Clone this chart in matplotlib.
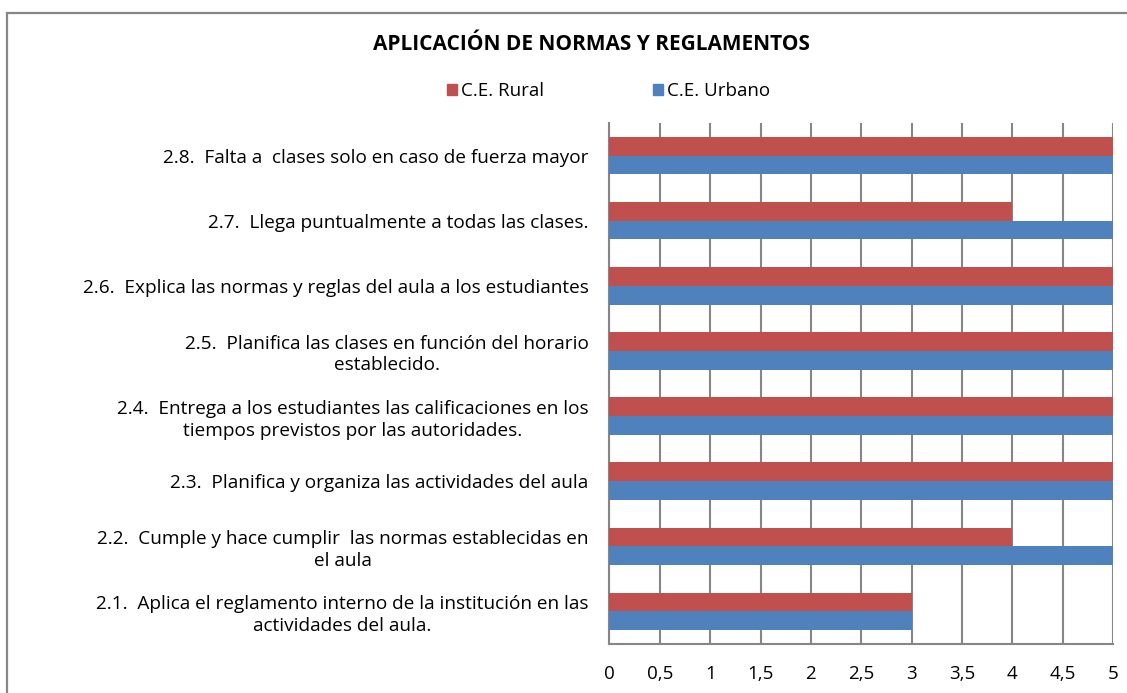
import matplotlib
matplotlib.use("Agg")
import matplotlib.pyplot as plt
import matplotlib.ticker as mticker
from matplotlib.patches import Rectangle, Patch
import numpy as np

COL_RURAL = "#C0504D"
COL_URBANO = "#4F81BD"
GRID = "#868686"

categories = [
    "2.1.  Aplica el reglamento interno de la institución en las\nactividades del aula.",
    "2.2.  Cumple y hace cumplir  las normas establecidas en\nel aula",
    "2.3.  Planifica y organiza las actividades del aula",
    "2.4.  Entrega a los estudiantes las calificaciones en los\ntiempos previstos por las autoridades.",
    "2.5.  Planifica las clases en función del horario\nestablecido.",
    "2.6.  Explica las normas y reglas del aula a los estudiantes",
    "2.7.  Llega puntualmente a todas las clases.",
    "2.8.  Falta a  clases solo en caso de fuerza mayor",
]
rural = [3, 4, 5, 5, 5, 5, 4, 5]
urbano = [3, 5, 5, 5, 5, 5, 5, 5]
xticks = [0, 0.5, 1, 1.5, 2, 2.5, 3, 3.5, 4, 4.5, 5]

plt.rcParams["font.family"] = ["Open Sans", "DejaVu Sans"]

fig = plt.figure(figsize=(11.27, 6.93), dpi=100)
fig.patch.set_facecolor("white")

# outer chart border (Excel chart area)
fig.patches.append(Rectangle((7 / 1127, -0.05), 1.2, 1 - 13 / 693 + 0.05,
                             transform=fig.transFigure, fill=False,
                             edgecolor=GRID, lw=1.6))

ax = fig.add_axes([0.5408, 0.0707, 0.9876 - 0.5408, 0.8225 - 0.0707])

y = np.arange(len(categories))
h = 0.288
ax.barh(y + h / 2, rural, height=h, color=COL_RURAL, zorder=3)
ax.barh(y - h / 2, urbano, height=h, color=COL_URBANO, zorder=3)

ax.set_xlim(0, 5)
ax.set_ylim(-0.5, len(categories) - 0.5)
ax.set_xticks(xticks)
ax.xaxis.set_major_formatter(mticker.FuncFormatter(
    lambda v, _: f"{v:g}".replace(".", ",")))
ax.set_yticks(y)
ax.set_yticklabels(categories, ha="right", multialignment="center",
                   linespacing=1.25)
ax.tick_params(axis="both", length=0, labelsize=13.5, colors="black")
ax.tick_params(axis="y", labelsize=13.7)
ax.tick_params(axis="x", pad=15)
ax.tick_params(axis="y", pad=15)
ax.grid(True, axis="x", color=GRID, lw=1.5, zorder=0)
for side in ["top", "right"]:
    ax.spines[side].set_visible(False)
for side in ["left", "bottom"]:
    ax.spines[side].set_color(GRID)
    ax.spines[side].set_linewidth(1.5)

fig.text(0.525, 1 - 44 / 693, "APLICACIÓN DE NORMAS Y REGLAMENTOS",
         ha="center", va="center", fontsize=15, fontweight="bold")

handles = [Patch(color=COL_RURAL, label="C.E. Rural"),
           Patch(color=COL_URBANO, label="C.E. Urbano")]
fig.legend(handles=handles, loc="center", bbox_to_anchor=(0.540, 1 - 91 / 693),
           ncol=2, frameon=False, fontsize=13.5, handlelength=0.55,
           handleheight=0.55, handletextpad=0.2, columnspacing=5.8)

fig.savefig("out.png", dpi=100, facecolor="white")
